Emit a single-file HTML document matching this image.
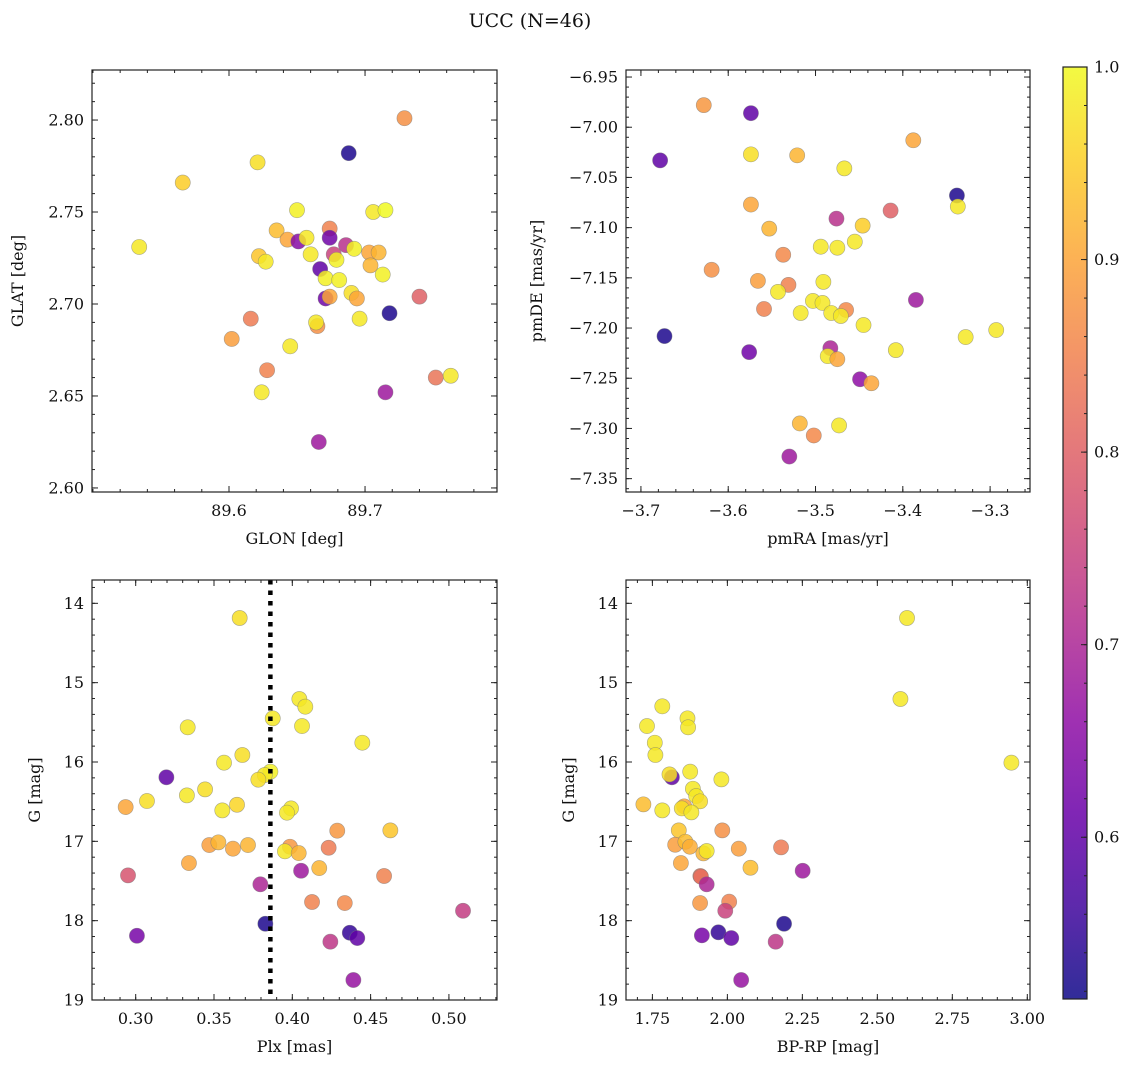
<!DOCTYPE html>
<html><head><meta charset="utf-8">
<style>
body{margin:0;background:#fff;}
svg text{font-family:"DejaVu Serif","Liberation Serif",serif;fill:#111;}
</style></head>
<body>
<svg id="fig" width="1136" height="1067" xmlns="http://www.w3.org/2000/svg">
<text x="530" y="27" font-size="19" text-anchor="middle">UCC (N=46)</text>
</svg>
<script>
// ---- data ----
const glon=[89.729,89.688,89.621,89.566,89.534,89.650,89.706,89.715,89.635,89.674,89.643,89.651,89.657,89.674,89.686,89.692,89.703,89.710,89.622,89.627,89.660,89.677,89.679,89.667,89.704,89.713,89.671,89.681,89.671,89.674,89.690,89.694,89.740,89.718,89.616,89.665,89.664,89.696,89.602,89.645,89.628,89.752,89.763,89.624,89.715,89.666];
const glat=[2.801,2.782,2.777,2.766,2.731,2.751,2.750,2.751,2.740,2.741,2.735,2.734,2.736,2.736,2.732,2.730,2.728,2.728,2.726,2.723,2.727,2.727,2.724,2.719,2.721,2.716,2.714,2.713,2.703,2.704,2.706,2.703,2.704,2.695,2.692,2.688,2.690,2.692,2.681,2.677,2.664,2.660,2.661,2.652,2.652,2.625];
const prob1=[0.87,0.53,0.97,0.95,0.98,0.99,0.98,1.0,0.93,0.85,0.9,0.65,0.98,0.62,0.72,0.99,0.9,0.92,0.94,0.98,0.98,0.75,0.99,0.6,0.92,0.99,0.99,0.99,0.62,0.9,0.97,0.9,0.8,0.53,0.84,0.87,0.98,0.98,0.89,0.98,0.85,0.83,0.98,0.98,0.68,0.68];
const pmra=[-3.628,-3.574,-3.678,-3.574,-3.521,-3.467,-3.388,-3.338,-3.337,-3.574,-3.414,-3.476,-3.553,-3.446,-3.455,-3.494,-3.475,-3.537,-3.619,-3.566,-3.531,-3.491,-3.543,-3.503,-3.492,-3.385,-3.559,-3.517,-3.482,-3.465,-3.471,-3.445,-3.673,-3.328,-3.293,-3.576,-3.408,-3.483,-3.486,-3.475,-3.449,-3.436,-3.518,-3.473,-3.502,-3.530];
const pmde=[-6.978,-6.986,-7.033,-7.027,-7.028,-7.041,-7.013,-7.068,-7.079,-7.077,-7.083,-7.091,-7.101,-7.098,-7.114,-7.119,-7.120,-7.127,-7.142,-7.153,-7.157,-7.154,-7.164,-7.173,-7.175,-7.172,-7.181,-7.185,-7.185,-7.182,-7.188,-7.197,-7.208,-7.209,-7.202,-7.224,-7.222,-7.220,-7.228,-7.231,-7.251,-7.255,-7.295,-7.297,-7.307,-7.328];
const prob2=[0.88,0.6,0.6,0.97,0.92,0.98,0.9,0.53,0.98,0.9,0.8,0.72,0.92,0.95,0.98,0.98,0.98,0.86,0.87,0.89,0.85,0.98,0.98,0.98,0.98,0.68,0.85,0.98,0.98,0.86,0.98,0.98,0.53,0.98,0.98,0.62,0.98,0.7,0.98,0.9,0.66,0.9,0.92,0.98,0.86,0.68];
const plx=[0.3664,0.4045,0.4083,0.3875,0.3332,0.4062,0.4447,0.3681,0.3564,0.3196,0.386,0.3824,0.3783,0.3443,0.3327,0.3072,0.2936,0.3647,0.3553,0.3992,0.3966,0.4287,0.4626,0.347,0.3528,0.3621,0.3717,0.3985,0.3953,0.4041,0.4232,0.334,0.4172,0.4056,0.2951,0.4586,0.3796,0.4126,0.4335,0.509,0.3828,0.3008,0.4367,0.4415,0.4243,0.439];
const gmag3=[14.185,15.206,15.303,15.45,15.563,15.547,15.757,15.912,16.009,16.193,16.122,16.164,16.223,16.345,16.421,16.492,16.568,16.539,16.61,16.585,16.639,16.866,16.862,17.047,17.013,17.093,17.047,17.068,17.126,17.148,17.081,17.274,17.337,17.371,17.429,17.437,17.542,17.765,17.778,17.875,18.039,18.19,18.152,18.219,18.265,18.748];
const prob3=[0.97,0.98,0.98,0.98,0.98,0.98,0.98,0.97,0.98,0.6,0.99,0.98,0.97,0.97,0.98,0.97,0.9,0.96,0.98,0.98,0.98,0.88,0.94,0.89,0.92,0.9,0.92,0.88,0.98,0.92,0.84,0.9,0.92,0.68,0.78,0.85,0.7,0.85,0.86,0.74,0.53,0.63,0.55,0.6,0.73,0.67];
const plxMean=[0.386];
const bprp=[2.599,2.577,2.947,1.783,1.732,1.867,1.869,1.758,1.76,1.815,1.807,1.876,1.98,1.885,1.896,1.909,1.72,1.783,1.856,1.848,1.88,1.838,1.983,1.826,1.86,1.875,1.92,1.931,2.038,2.179,1.845,2.077,2.251,1.91,1.912,1.931,1.909,2.006,1.993,2.189,1.915,1.97,2.013,2.161,2.046];
const gmag4=[14.185,15.206,16.009,15.298,15.547,15.45,15.563,15.757,15.912,16.193,16.156,16.122,16.219,16.337,16.429,16.496,16.534,16.61,16.559,16.585,16.635,16.862,16.862,17.043,17.005,17.068,17.152,17.122,17.093,17.076,17.274,17.333,17.371,17.437,17.446,17.542,17.778,17.761,17.875,18.039,18.185,18.147,18.219,18.265,18.748];
const prob4=[0.98,0.98,0.98,0.98,0.98,0.98,0.98,0.98,0.98,0.6,0.97,0.98,0.98,0.98,0.98,0.97,0.93,0.98,0.9,0.97,0.98,0.94,0.87,0.89,0.93,0.91,0.92,0.98,0.89,0.84,0.9,0.93,0.68,0.83,0.82,0.7,0.88,0.85,0.75,0.53,0.63,0.55,0.6,0.73,0.67];
const cbTicks=[0.6,0.7,0.8,0.9,1.0];

const NS="http://www.w3.org/2000/svg";
const svg=document.getElementById('fig');
const VMIN=0.516,VMAX=1.0;
const PL=[[13,8,135],[65,4,157],[106,0,168],[143,13,164],[177,42,144],[204,71,120],[225,100,98],[242,132,75],[252,166,54],[252,206,37],[240,249,33]];
function plasma(t){t=Math.max(0,Math.min(1,t));const f=t*10,i=Math.min(9,Math.floor(f)),r=f-i;const a=PL[i],b=PL[i+1];return 'rgb('+a.map((v,k)=>Math.round(v+(b[k]-v)*r)).join(',')+')';}
function cmap(p){return plasma((p-VMIN)/(VMAX-VMIN));}
function mk(tag,attrs,parent){const e=document.createElementNS(NS,tag);for(const k in attrs)e.setAttribute(k,attrs[k]);(parent||svg).appendChild(e);return e;}
function fmt(v,d){let s=v.toFixed(d);if(v<0)s='\u2212'+s.slice(1);return s;}

function panel(o){
  const g=mk('g',{});
  
  
  const sx=v=>o.L+(v-o.x0)/(o.x1-o.x0)*(o.R-o.L);
  const sy=v=>o.T+(v-o.y0)/(o.y1-o.y0)*(o.B-o.T);
  const clip=mk('clipPath',{id:'c'+o.name},g);mk('rect',{x:o.L,y:o.T,width:o.R-o.L,height:o.B-o.T},clip);
  const pts=mk('g',{'clip-path':'url(#c'+o.name+')'},g);
  
  
  for(let i=0;i<o.xs.length;i++){
    const c=mk('circle',{cx:sx(o.xs[i]),cy:sy(o.ys[i]),r:7.6,fill:cmap(o.ps[i]),'fill-opacity':0.85,stroke:'#777','stroke-opacity':0.6,'stroke-width':0.6},pts);
    
    
  }
  if(o.vline!==undefined){const l=mk('line',{x1:sx(o.vline),x2:sx(o.vline),y1:o.T,y2:o.B,stroke:'#000','stroke-width':4.5,'stroke-dasharray':'4.5 6'},pts);
    
    }
  const ax=mk('g',{stroke:'#222','stroke-width':1},g);
  const tick=(v,len,isX)=>{ if(isX){const x=sx(v);if(x<o.L-0.5||x>o.R+0.5)return;mk('line',{x1:x,x2:x,y1:o.B,y2:o.B-len},ax);mk('line',{x1:x,x2:x,y1:o.T,y2:o.T+len},ax);}
    else{const y=sy(v);if(y<Math.min(o.T,o.B)-0.5||y>Math.max(o.T,o.B)+0.5)return;mk('line',{x1:o.L,x2:o.L+len,y1:y,y2:y},ax);mk('line',{x1:o.R,x2:o.R-len,y1:y,y2:y},ax);} };
  const lo=(a,b)=>Math.min(a,b),hi=(a,b)=>Math.max(a,b);
  for(let v=Math.ceil(lo(o.x0,o.x1)/o.xm-1e-6)*o.xm;v<=hi(o.x0,o.x1)+1e-9;v+=o.xm)tick(v,3,true);
  for(let v=Math.ceil(lo(o.y0,o.y1)/o.ym-1e-6)*o.ym;v<=hi(o.y0,o.y1)+1e-9;v+=o.ym)tick(v,3,false);
  o.xt.forEach(v=>{tick(v,6,true);const t=mk('text',{x:sx(v),y:o.B+24,'font-size':16,'text-anchor':'middle'},g);t.textContent=fmt(v,o.xd);
    
    });
  o.yt.forEach(v=>{tick(v,6,false);const t=mk('text',{x:o.L-8,y:sy(v)+5.5,'font-size':16,'text-anchor':'end'},g);t.textContent=fmt(v,o.yd);
    
    });
  mk('rect',{x:o.L,y:o.T,width:o.R-o.L,height:o.B-o.T,fill:'none',stroke:'#222','stroke-width':1.2},g);
  const xl=mk('text',{x:(o.L+o.R)/2,y:o.B+52,'font-size':16,'text-anchor':'middle'},g);xl.textContent=o.xlab;
  
  
  const yc=(o.T+o.B)/2;const yl=mk('text',{x:o.ylx,y:yc,'font-size':16,'text-anchor':'middle',transform:'rotate(-90 '+o.ylx+' '+yc+')'},g);yl.textContent=o.ylab;
  
  
}
panel({name:'glon-glat-panel',L:92,R:497,T:70,B:492,x0:89.4993,x1:89.797,y0:2.8272,y1:2.5978,xs:glon,ys:glat,ps:prob1,xt:[89.6,89.7],xd:1,yt:[2.60,2.65,2.70,2.75,2.80],yd:2,xm:0.02,ym:0.01,xlab:'GLON [deg]',ylab:'GLAT [deg]',ylx:23});
panel({name:'pm-panel',L:626,R:1030,T:70,B:492,x0:-3.7171,x1:-3.2543,y0:-6.943,y1:-7.3633,xs:pmra,ys:pmde,ps:prob2,xt:[-3.7,-3.6,-3.5,-3.4,-3.3],xd:1,yt:[-6.95,-7.00,-7.05,-7.10,-7.15,-7.20,-7.25,-7.30,-7.35],yd:2,xm:0.02,ym:0.01,xlab:'pmRA [mas/yr]',ylab:'pmDE [mas/yr]',ylx:542});
panel({name:'plx-g-panel',L:92,R:497,T:580,B:1000,x0:0.2721,x1:0.5307,y0:13.706,y1:19,xs:plx,ys:gmag3,ps:prob3,xt:[0.30,0.35,0.40,0.45,0.50],xd:2,yt:[14,15,16,17,18,19],yd:0,xm:0.01,ym:0.2,xlab:'Plx [mas]',ylab:'G [mag]',ylx:40,vline:plxMean[0]});
panel({name:'cmd-panel',L:626,R:1030,T:580,B:1000,x0:1.662,x1:3.009,y0:13.706,y1:19,xs:bprp,ys:gmag4,ps:prob4,xt:[1.75,2.00,2.25,2.50,2.75,3.00],xd:2,yt:[14,15,16,17,18,19],yd:0,xm:0.05,ym:0.2,xlab:'BP-RP [mag]',ylab:'G [mag]',ylx:574});

// colorbar
(function(){
  const L=1063,R=1087,T=67,B=999;
  const g=mk('g',{});
  
  
  const defs=mk('defs',{},g);const lg=mk('linearGradient',{id:'cbg',x1:0,y1:1,x2:0,y2:0},defs);
  for(let i=0;i<=20;i++)mk('stop',{offset:i/20,'stop-color':plasma(i/20)},lg);
  mk('rect',{x:L,y:T,width:R-L,height:B-T,fill:'url(#cbg)','fill-opacity':0.85},g);
  const sy=v=>B-(v-VMIN)/(VMAX-VMIN)*(B-T);
  for(let v=0.52;v<=1.0001;v+=0.02){mk('line',{x1:R,x2:R-3,y1:sy(v),y2:sy(v),stroke:'#222'},g);}
  cbTicks.forEach(v=>{mk('line',{x1:R,x2:R-6,y1:sy(v),y2:sy(v),stroke:'#222'},g);
    const t=mk('text',{x:R+7,y:sy(v)+5.5,'font-size':16},g);t.textContent=v.toFixed(1);
    
    });
  mk('rect',{x:L,y:T,width:R-L,height:B-T,fill:'none',stroke:'#222','stroke-width':1.2},g);
})();
</script>
</body></html>
